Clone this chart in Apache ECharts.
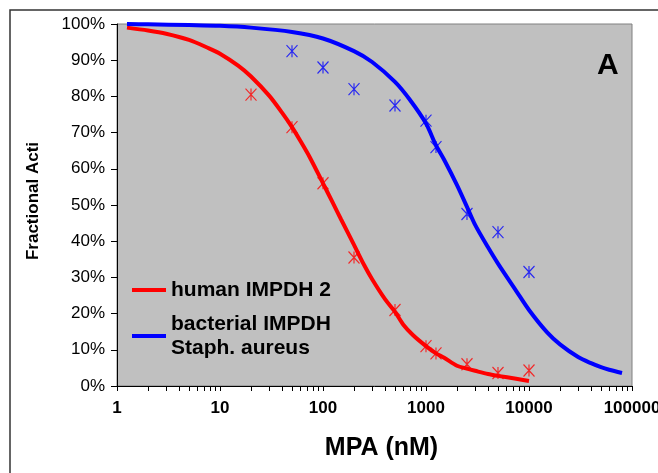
<!DOCTYPE html>
<html>
<head>
<meta charset="utf-8">
<script src="https://cdn.jsdelivr.net/npm/echarts@6/dist/echarts.min.js"></script>
<style>
html,body{margin:0;padding:0;background:#fff;}
#c{width:658px;height:473px;}
</style>
</head>
<body>
<div id="c"></div>
<script>
// Fitted curves
var redCurveX = [1.25, 2, 3, 5, 7.5, 10, 15, 20, 30, 40, 50, 60, 75, 100, 125, 150, 200, 250, 300, 400, 500, 600, 750, 1000, 1250, 1500, 2000, 2500, 3000, 4000, 5000, 7500, 10000];
var redCurveY = [99.0, 98.2, 97.3, 95.6, 93.5, 91.8, 88.5, 85.5, 80.2, 75.5, 71.5, 67.8, 63, 56, 50.5, 46, 39, 33.5, 29.5, 24, 20.5, 17, 14, 11, 9, 7.8, 5.6, 4.8, 4.2, 3.3, 2.8, 2, 1.4];
var blueCurveX = [1.25, 2, 5, 10, 20, 50, 100, 200, 300, 500, 700, 1000, 1250, 1500, 2000, 2500, 3000, 4000, 5000, 7500, 10000, 15000, 20000, 30000, 40000, 50000, 60000, 80000];
var blueCurveY = [100, 99.9, 99.7, 99.5, 99, 97.8, 96, 92.5, 89.5, 84, 79, 72.5, 66.5, 62.5, 55.5, 49.5, 44.5, 38.3, 33.8, 26.3, 21, 14.8, 11.5, 8, 6.3, 5.2, 4.5, 3.6];
// Measured points
var redX = [20, 50, 100, 200, 500, 1000, 1250, 2500, 5000, 10000];
var redY = [80.5, 71.5, 56, 35.5, 21, 11, 9, 6, 3.6, 4.3];
var blueX = [50, 100, 200, 500, 1000, 1250, 2500, 5000, 10000];
var blueY = [92.5, 88, 82, 77.5, 73.3, 66, 47.5, 42.5, 31.5];
// Tick labels
var xTickLabels = [1, 10, 100, 1000, 10000, 100000];
var seriesNames = ['human IMPDH 2', 'bacterial IMPDH\nStaph. aureus'];

function zip(xs, ys){ return xs.map(function(x,i){ return [x, ys[i]]; }); }
var minorTicks = [];
for (var d = 0; d < 5; d++) { for (var k = 1; k <= 9; k++) { minorTicks.push(k * Math.pow(10, d)); } }
minorTicks.push(100000);

var star = 'path://M0,0L10,10M10,0L0,10M5,0L5,10';
var chart = echarts.init(document.getElementById('c'), null, {renderer:'canvas'});
var font = '"Liberation Sans", Arial, sans-serif';
var legendText = {fontSize:21, fontWeight:'bold', color:'#000', lineHeight:24, fontFamily:font};
chart.setOption({
  animation: false,
  textStyle: {fontFamily: font},
  graphic: [{type:'rect', shape:{x:10, y:10, width:700, height:500}, style:{fill:'none', stroke:'#333', lineWidth:1.5}, z:-10}],
  title: {text:'A', left:592, top:46, textStyle:{fontSize:30, fontWeight:'bold', color:'#000', fontFamily:font}},
  grid: {left:117, top:24, width:515, height:362, outerBoundsMode:'none', containLabel:false, show:true, backgroundColor:'#C0C0C0', borderColor:'#808080', borderWidth:1},
  legend: {
    orient:'vertical', left:127, top:273, itemGap:-2, itemWidth:34, itemHeight:4, icon:'rect',
    data:[
      {name: seriesNames[0], textStyle: legendText},
      {name: seriesNames[1], textStyle: Object.assign({}, legendText, {padding:[24,0,0,0]})}
    ],
    textStyle: legendText
  },
  xAxis: {
    type:'log', logBase:10, min:1, max:100000,
    name:'MPA (nM)', nameLocation:'middle', nameGap:50,
    nameTextStyle:{fontSize:25, fontWeight:'bold', color:'#000', fontFamily:font, padding:[0,0,0,14]},
    axisLine:{show:true, lineStyle:{color:'#000', width:1}},
    axisTick:{show:true, length:5, lineStyle:{color:'#000'}, customValues: minorTicks},
    axisLabel:{fontSize:17, fontWeight:'bold', color:'#000', margin:14, customValues: xTickLabels, showMinLabel:true, showMaxLabel:true, hideOverlap:false,
      formatter:function(v){ return String(Math.round(v)); }},
    splitLine:{show:false}
  },
  yAxis: {
    type:'value', min:0, max:100, interval:10,
    name:'Fractional Acti', nameLocation:'middle', nameGap:75, nameRotate:90,
    nameTextStyle:{fontSize:17, fontWeight:'bold', color:'#000', fontFamily:font, padding:[0,0,0,8]},
    axisLine:{show:true, lineStyle:{color:'#000', width:1}},
    axisTick:{show:true, length:6, lineStyle:{color:'#000'}},
    axisLabel:{fontSize:17, color:'#000', margin:12, formatter:'{value}%'},
    splitLine:{show:false}
  },
  series: [
    {name: seriesNames[0], type:'line', data: zip(redCurveX, redCurveY), smooth:0.3, showSymbol:false, symbol:'none', lineStyle:{color:'#FF0000', width:4}, itemStyle:{color:'#FF0000'}, z:2},
    {name: seriesNames[1], type:'line', data: zip(blueCurveX, blueCurveY), smooth:0.3, showSymbol:false, symbol:'none', lineStyle:{color:'#0000FF', width:4}, itemStyle:{color:'#0000FF'}, z:2},
    {name:'human data', type:'scatter', data: zip(redX, redY), symbol: star, symbolSize:[11,12], itemStyle:{color:'transparent', borderColor:'#FF0000', borderWidth:1.2}, z:3},
    {name:'bacterial data', type:'scatter', data: zip(blueX, blueY), symbol: star, symbolSize:[11,12], itemStyle:{color:'transparent', borderColor:'#0000FF', borderWidth:1.2}, z:3}
  ]
});
</script>
</body>
</html>
